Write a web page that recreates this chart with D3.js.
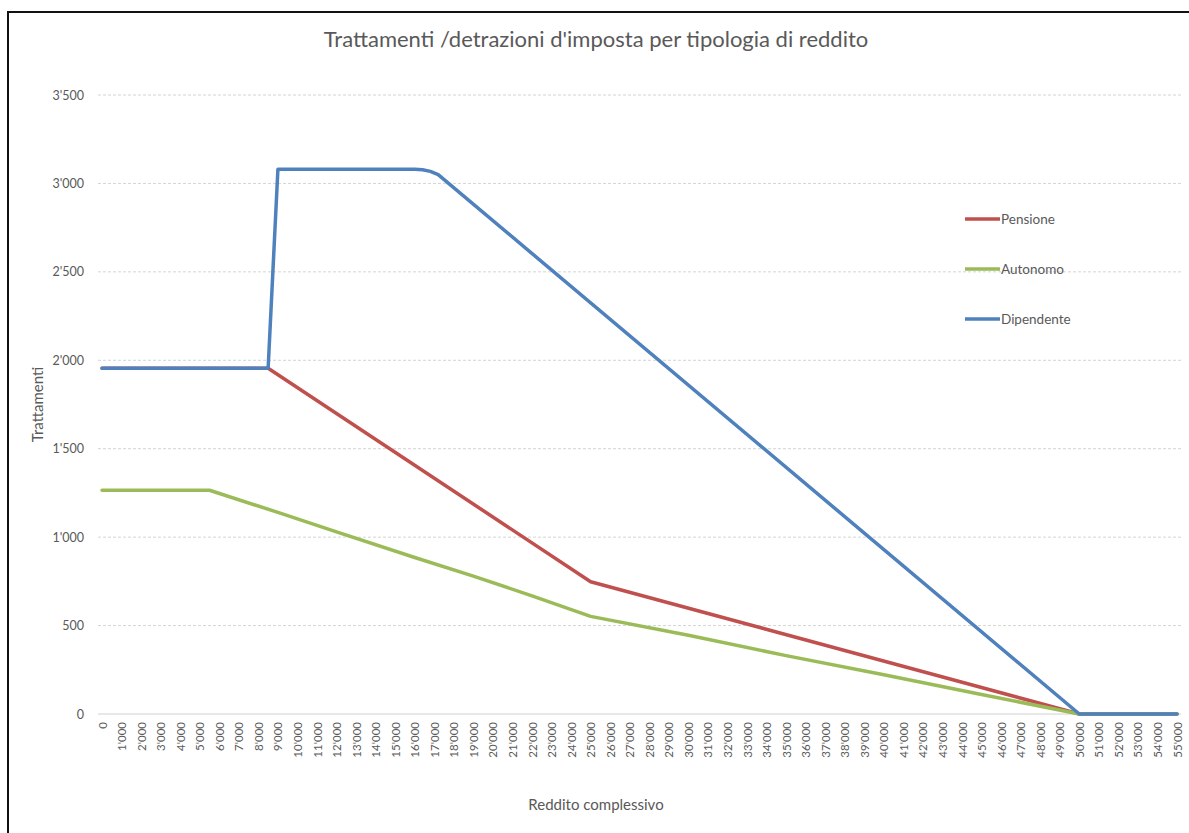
<!DOCTYPE html>
<html>
<head>
<meta charset="utf-8">
<script src="https://cdn.jsdelivr.net/npm/d3@7"></script>
<style>
  html, body { margin: 0; padding: 0; background: #fff; }
  svg { display: block; }
  text { font-family: Lato, "Open Sans", sans-serif; }
</style>
</head>
<body>
<svg id="chart" width="1189" height="833"></svg>
<script>
// ---- Data ----
const xTicks = d3.range(0, 55001, 1000);           // category labels: 0, 1'000 ... 55'000
const yTicks = [0, 500, 1000, 1500, 2000, 2500, 3000, 3500];
const seriesNames = ["Pensione", "Autonomo", "Dipendente"];
const seriesColors = ["#C0504D", "#9BBB59", "#4F81BD"];

// Knot points (reddito, trattamento) for each series
const pensioneX = [0, 8500, 25000, 50000, 55000];
const pensioneY = [1955, 1955, 748, 0, 0];

const autonomoX = [0, 5500, 9000, 12000, 16000, 19000, 22000, 25000, 30000, 35000, 40000, 45000, 50000, 55000];
const autonomoY = [1265, 1265, 1140, 1030, 885, 780, 668, 552, 445, 330, 222, 110, 0, 0];

const dipendenteX = [0, 8500, 9000, 16000, 16400, 16800, 17200, 50000, 55000];
const dipendenteY = [1955, 1955, 3080, 3080, 3077, 3068, 3050, 0, 0];

const seriesX = [pensioneX, autonomoX, dipendenteX];
const seriesY = [pensioneY, autonomoY, dipendenteY];

// ---- Layout ----
const svg = d3.select("#chart");
const W = 1189, H = 833;
const plot = { left: 102, right: 1177, top: 95, bottom: 714 };

const x = d3.scaleLinear().domain([0, 55000]).range([plot.left, plot.right]);
const y = d3.scaleLinear().domain([0, 3500]).range([plot.bottom, plot.top]);

const fmt = v => {
  if (v < 1000) return String(v);
  const s = String(v);
  return s.slice(0, s.length - 3) + "'" + s.slice(s.length - 3);
};

// outer frame (left and top edges visible in reference)
svg.append("line").attr("x1", 8).attr("x2", 8).attr("y1", 11).attr("y2", H)
  .attr("stroke", "#111").attr("stroke-width", 2);
svg.append("line").attr("x1", 7).attr("x2", W).attr("y1", 12).attr("y2", 12)
  .attr("stroke", "#111").attr("stroke-width", 2);

// Title
svg.append("text")
  .attr("x", 596).attr("y", 47)
  .attr("text-anchor", "middle")
  .attr("font-size", 22)
  .attr("fill", "#595959")
  .text("Trattamenti /detrazioni d'imposta per tipologia di reddito");

// Y gridlines + labels
const yAxis = d3.axisLeft(y).tickValues(yTicks).tickFormat(fmt).tickSize(0).tickPadding(0);
const gy = svg.append("g").attr("transform", `translate(${plot.left - 18},0)`).call(yAxis);
gy.select(".domain").remove();
gy.selectAll("text").attr("font-size", 12.5).attr("fill", "#595959")
  .attr("font-family", "Lato, 'Open Sans', sans-serif");

svg.append("g").selectAll("line.grid")
  .data(yTicks.filter(d => d > 0))
  .join("line")
  .attr("x1", plot.left - 4).attr("x2", plot.right + 4)
  .attr("y1", d => y(d)).attr("y2", d => y(d))
  .attr("stroke", "#d4d4d4").attr("stroke-width", 1)
  .attr("stroke-dasharray", "3,2");

// X axis baseline
svg.append("line")
  .attr("x1", plot.left - 4).attr("x2", plot.right + 4)
  .attr("y1", y(0)).attr("y2", y(0))
  .attr("stroke", "#d0d0d0").attr("stroke-width", 1);

// X tick labels (rotated)
const xAxis = d3.axisBottom(x).tickValues(xTicks).tickFormat(fmt).tickSize(0).tickPadding(0);
const gx = svg.append("g").attr("transform", `translate(0,${plot.bottom})`).call(xAxis);
gx.select(".domain").remove();
gx.selectAll("text")
  .attr("font-size", 11.5).attr("fill", "#595959")
  .attr("font-family", "Lato, 'Open Sans', sans-serif")
  .attr("text-anchor", "end")
  .attr("transform", "translate(0,8) rotate(-90)")
  .attr("dx", 0).attr("dy", "0.35em").attr("y", 0).attr("x", 0);

// Axis titles
svg.append("text")
  .attr("x", 596).attr("y", 810)
  .attr("text-anchor", "middle")
  .attr("font-size", 15).attr("fill", "#595959")
  .text("Reddito complessivo");

svg.append("text")
  .attr("transform", `translate(43,${(plot.top + plot.bottom) / 2}) rotate(-90)`)
  .attr("text-anchor", "middle")
  .attr("font-size", 15).attr("fill", "#595959")
  .text("Trattamenti");

// Lines
const line = d3.line().x(d => x(d[0])).y(d => y(d[1]));
seriesNames.forEach((name, i) => {
  const pts = seriesX[i].map((v, j) => [v, seriesY[i][j]]);
  svg.append("path")
    .datum(pts)
    .attr("fill", "none")
    .attr("stroke", seriesColors[i])
    .attr("stroke-width", 3.5)
    .attr("stroke-linejoin", "round")
    .attr("stroke-linecap", "round")
    .attr("d", line);
});

// Legend
const legend = svg.append("g").attr("transform", "translate(965,219)");
seriesNames.forEach((name, i) => {
  const g = legend.append("g").attr("transform", `translate(0,${i * 50})`);
  g.append("line").attr("x1", 0).attr("x2", 35).attr("y1", 0).attr("y2", 0)
    .attr("stroke", seriesColors[i]).attr("stroke-width", 3.5);
  g.append("text").attr("x", 36).attr("y", 0).attr("dy", "0.35em")
    .attr("font-size", 13.5).attr("fill", "#595959").text(name);
});
</script>
</body>
</html>
